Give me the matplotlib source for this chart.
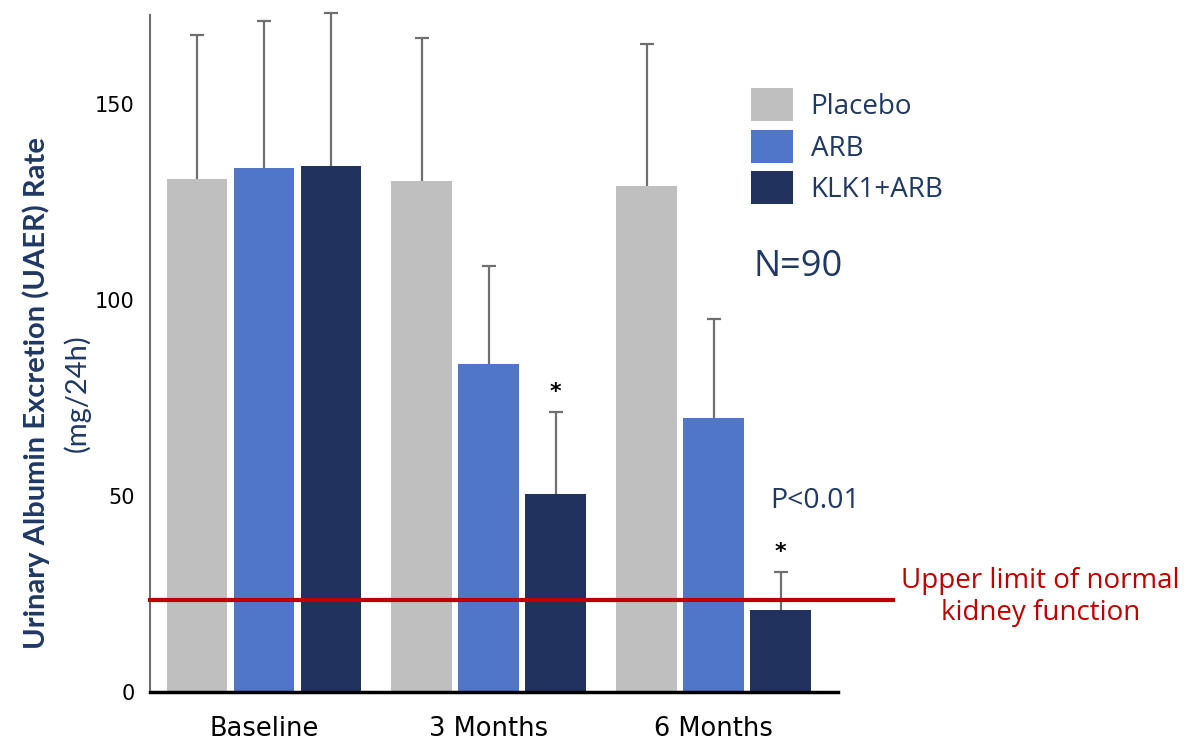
import matplotlib.pyplot as plt
import numpy as np

groups = ["Baseline", "3 Months", "6 Months"]
series = ["Placebo", "ARB", "KLK1+ARB"]
means = {
    "Placebo": [130.9, 130.4, 129.1],
    "ARB": [133.7, 83.7, 69.9],
    "KLK1+ARB": [134.2, 50.5, 20.9],
}
upper_err = {
    "Placebo": [36.7, 36.4, 36.2],
    "ARB": [37.5, 25.0, 25.3],
    "KLK1+ARB": [39.0, 20.9, 9.7],
}
colors = {"Placebo": "#c0bfbf", "ARB": "#4f76c8", "KLK1+ARB": "#21325e"}
normal_limit = 23.5
yticks = [0, 50, 100, 150]

navy = "#1f3864"

fig = plt.figure(figsize=(12, 7.46), dpi=100)
ax = fig.add_axes([0.125, 0.0724, 0.573, 0.9075])

x = np.arange(len(groups))
width = 0.271
step = 0.298
for i, s in enumerate(series):
    pos = x + (i - 1) * step
    bars = ax.bar(pos, means[s], width, color=colors[s], label=s, zorder=2,
                  yerr=[np.zeros(len(groups)), upper_err[s]],
                  error_kw=dict(ecolor="#6f6f6f", elinewidth=1.6, capsize=5,
                                capthick=1.6, zorder=1, clip_on=False))
    # hide the caps sitting on the bar tops
    _, caplines, barcols = bars.errorbar.lines
    for cl in caplines:
        cl.set_clip_on(False)
        if np.allclose(cl.get_ydata(), means[s]):
            cl.set_visible(False)
    for bc in barcols:
        bc.set_clip_on(False)

# significance marks on KLK1+ARB
for gi in [1, 2]:
    top = means["KLK1+ARB"][gi] + upper_err["KLK1+ARB"][gi]
    ax.text(x[gi] + step, top + 2.5, "*", ha="center", va="bottom", fontsize=16,
            fontweight="bold", color="black")

ax.axhline(normal_limit, xmin=0, xmax=1.08, color="#c00000", lw=3, clip_on=False, zorder=3)

ax.set_xlim(-0.507, 2.551)
ax.set_ylim(0, 172.7)
ax.set_yticks(yticks)
ax.set_xticks(x)
ax.set_xticklabels(groups, fontsize=18.5)
ax.tick_params(axis="y", labelsize=15, length=0, pad=11)
ax.tick_params(axis="x", length=0, pad=17)
for sp in ["top", "right"]:
    ax.spines[sp].set_visible(False)
ax.spines["left"].set_color("#6f6f6f")
ax.spines["left"].set_linewidth(1.5)
ax.spines["bottom"].set_color("black")
ax.spines["bottom"].set_linewidth(2.5)

fig.text(0.030, 0.473, "Urinary Albumin Excretion (UAER) Rate", rotation=90,
         ha="center", va="center", fontsize=21, fontweight="bold", color=navy, family="Lato")
fig.text(0.064, 0.473, "(mg/24h)", rotation=90, ha="center", va="center",
         fontsize=21, color=navy, family="Lato")

leg = ax.legend(loc="upper left", frameon=False, borderpad=0,
                handlelength=1.51, handleheight=1.45, handletextpad=0.65,
                labelspacing=0.3, prop={"family": "Open Sans", "size": 20})
leg.set_bbox_to_anchor((0.614, 0.90), transform=fig.transFigure)
for t in leg.get_texts():
    t.set_color(navy)

fig.text(0.6283, 0.642, "N=90", fontsize=26, color=navy, family="Open Sans", va="center")
fig.text(0.6417, 0.328, "P<0.01", fontsize=20.5, color=navy, family="Open Sans", va="center")
fig.text(0.867, 0.2, "Upper limit of normal\nkidney function", fontsize=20, color="#c00000",
         family="Open Sans", ha="center", va="center", linespacing=1.2)

fig.savefig("out.png", dpi=100)
